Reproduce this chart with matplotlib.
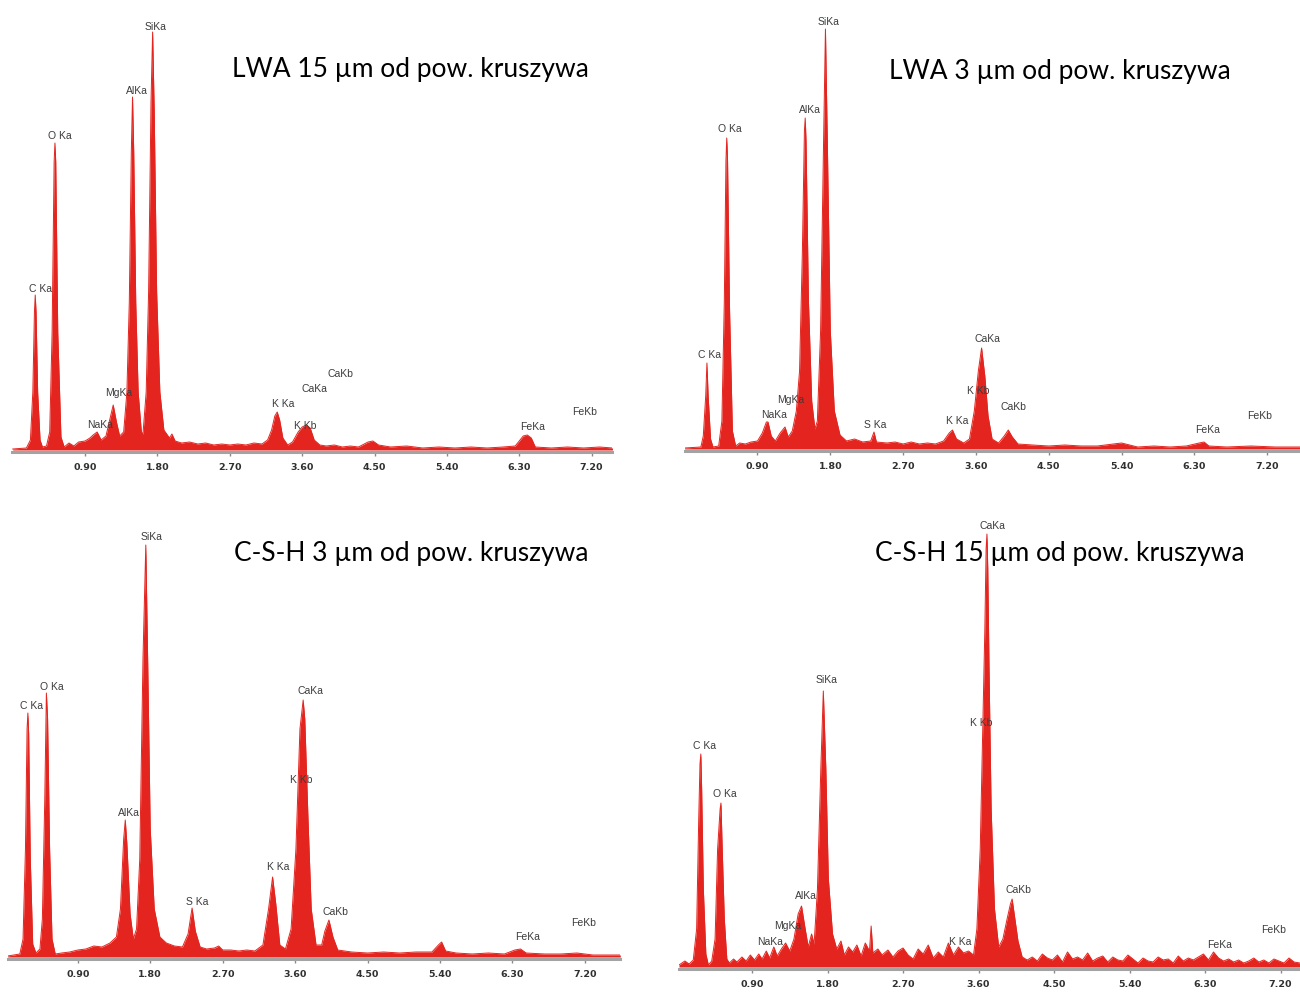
import matplotlib
matplotlib.use("Agg")
import matplotlib.pyplot as plt

# EDS spectra, energy in keV, counts (arbitrary units)
tl_energy = [0.00, 0.17, 0.22, 0.25, 0.27, 0.28, 0.29, 0.31, 0.34, 0.37, 0.42, 0.46, 0.49, 0.515, 0.525,
             0.535, 0.56, 0.60, 0.64, 0.70, 0.76, 0.82, 0.90, 0.96, 1.00, 1.05, 1.10, 1.16, 1.20, 1.25,
             1.29, 1.33, 1.38, 1.42, 1.45, 1.475, 1.49, 1.505, 1.53, 1.56, 1.60, 1.62, 1.66, 1.69, 1.72,
             1.74, 1.76, 1.79, 1.83, 1.88, 1.95, 1.98, 2.02, 2.10, 2.20, 2.30, 2.40, 2.50, 2.60, 2.70,
             2.80, 2.90, 3.00, 3.10, 3.17, 3.22, 3.26, 3.29, 3.32, 3.36, 3.42, 3.48, 3.55, 3.60, 3.65,
             3.70, 3.75, 3.82, 3.90, 4.00, 4.10, 4.20, 4.30, 4.42, 4.48, 4.55, 4.70, 4.90, 5.10, 5.30,
             5.50, 5.70, 5.90, 6.10, 6.25, 6.35, 6.40, 6.45, 6.50, 6.70, 6.90, 7.10, 7.30, 7.46]
tl_counts = [3, 4, 12, 60, 140, 157, 140, 60, 12, 5, 6, 20, 120, 290, 309,
             290, 120, 15, 5, 9, 6, 10, 11, 14, 17, 20, 12, 16, 30, 47,
             30, 16, 20, 60, 150, 300, 355, 300, 150, 60, 20, 18, 60, 160, 350,
             420, 340, 160, 60, 22, 14, 18, 11, 9, 10, 8, 9, 7, 8, 7,
             8, 7, 9, 8, 12, 22, 36, 40, 32, 14, 7, 10, 20, 25, 27,
             24, 12, 7, 6, 7, 5, 6, 5, 10, 11, 7, 5, 6, 4, 5,
             4, 5, 4, 5, 6, 16, 17, 14, 5, 4, 5, 4, 5, 4]

tr_energy = [0.00, 0.20, 0.23, 0.26, 0.275, 0.29, 0.32, 0.35, 0.42, 0.46, 0.49, 0.51, 0.52, 0.53, 0.555,
             0.59, 0.63, 0.68, 0.75, 0.82, 0.90, 0.96, 1.01, 1.03, 1.07, 1.12, 1.18, 1.24, 1.28, 1.33,
             1.38, 1.42, 1.455, 1.48, 1.49, 1.50, 1.53, 1.57, 1.61, 1.64, 1.68, 1.715, 1.74, 1.765, 1.80,
             1.85, 1.92, 2.00, 2.10, 2.20, 2.30, 2.34, 2.37, 2.50, 2.60, 2.70, 2.80, 2.90, 3.00, 3.10,
             3.20, 3.27, 3.31, 3.36, 3.45, 3.52, 3.58, 3.63, 3.67, 3.71, 3.75, 3.80, 3.88, 3.95, 4.00,
             4.05, 4.12, 4.30, 4.50, 4.70, 4.90, 5.10, 5.30, 5.40, 5.50, 5.60, 5.80, 6.00, 6.20, 6.36,
             6.42, 6.48, 6.70, 7.00, 7.30, 7.61]
tr_counts = [3, 4, 15, 55, 88, 55, 12, 4, 5, 30, 150, 290, 313, 290, 140,
             20, 5, 8, 7, 9, 10, 18, 29, 29, 15, 10, 18, 24, 14, 20,
             40, 80, 200, 320, 333, 310, 150, 50, 22, 30, 120, 300, 422, 300, 120,
             40, 16, 10, 12, 9, 10, 19, 9, 8, 9, 7, 9, 7, 8, 7,
             10, 18, 21, 12, 8, 12, 40, 80, 103, 75, 35, 12, 8, 15, 21,
             14, 7, 6, 5, 6, 5, 5, 7, 8, 6, 4, 5, 4, 5, 8,
             9, 5, 4, 5, 4, 4]

bl_energy = [0.03, 0.18, 0.22, 0.25, 0.27, 0.28, 0.29, 0.31, 0.34, 0.38, 0.43, 0.46, 0.49, 0.51, 0.525,
             0.55, 0.58, 0.62, 0.70, 0.80, 0.90, 1.00, 1.10, 1.20, 1.30, 1.38, 1.43, 1.47, 1.49, 1.51,
             1.55, 1.59, 1.63, 1.67, 1.71, 1.745, 1.77, 1.80, 1.85, 1.92, 2.00, 2.10, 2.20, 2.27, 2.32,
             2.36, 2.42, 2.50, 2.60, 2.65, 2.70, 2.80, 2.90, 3.00, 3.10, 3.20, 3.27, 3.32, 3.36, 3.41,
             3.48, 3.55, 3.61, 3.66, 3.70, 3.72, 3.76, 3.80, 3.86, 3.93, 3.97, 4.02, 4.07, 4.13, 4.30,
             4.50, 4.70, 4.90, 5.10, 5.30, 5.38, 5.42, 5.47, 5.60, 5.80, 6.00, 6.20, 6.33, 6.40, 6.47,
             6.70, 6.90, 7.10, 7.30, 7.50, 7.64]
bl_counts = [3, 5, 20, 110, 230, 246, 225, 100, 15, 6, 10, 40, 160, 266, 240,
             110, 20, 5, 6, 7, 9, 10, 13, 12, 16, 22, 50, 120, 139, 115,
             45, 20, 30, 100, 300, 414, 290, 130, 50, 22, 16, 13, 12, 25, 51,
             28, 12, 10, 11, 13, 9, 9, 8, 9, 8, 14, 50, 82, 55, 14,
             10, 30, 110, 230, 259, 240, 140, 50, 14, 14, 28, 39, 22, 9, 7,
             6, 7, 6, 7, 7, 14, 17, 8, 6, 5, 6, 5, 9, 10, 6,
             5, 5, 6, 4, 4, 4]

br_energy = [0.03, 0.10, 0.15, 0.20, 0.24, 0.265, 0.28, 0.29, 0.30, 0.32, 0.35, 0.38, 0.42, 0.46, 0.49,
             0.52, 0.53, 0.545, 0.57, 0.60, 0.63, 0.68, 0.72, 0.78, 0.83, 0.88, 0.93, 0.98, 1.02, 1.07,
             1.11, 1.16, 1.20, 1.25, 1.30, 1.35, 1.40, 1.45, 1.49, 1.53, 1.57, 1.61, 1.64, 1.68, 1.72,
             1.75, 1.78, 1.81, 1.86, 1.91, 1.96, 2.00, 2.05, 2.10, 2.15, 2.20, 2.25, 2.30, 2.32, 2.34,
             2.40, 2.45, 2.52, 2.58, 2.64, 2.70, 2.76, 2.82, 2.88, 2.94, 3.00, 3.06, 3.12, 3.18, 3.24,
             3.30, 3.36, 3.42, 3.48, 3.54, 3.58, 3.62, 3.65, 3.675, 3.69, 3.70, 3.71, 3.725, 3.75, 3.79,
             3.84, 3.89, 3.94, 3.98, 4.00, 4.03, 4.07, 4.12, 4.18, 4.24, 4.30, 4.36, 4.42, 4.48, 4.54,
             4.60, 4.66, 4.72, 4.78, 4.84, 4.90, 4.96, 5.02, 5.08, 5.14, 5.20, 5.26, 5.32, 5.38, 5.44,
             5.50, 5.56, 5.62, 5.68, 5.74, 5.80, 5.86, 5.92, 5.98, 6.04, 6.10, 6.16, 6.22, 6.28, 6.34,
             6.40, 6.46, 6.52, 6.58, 6.64, 6.70, 6.76, 6.82, 6.88, 6.94, 7.00, 7.06, 7.12, 7.18, 7.24,
             7.30, 7.36, 7.43]
br_counts = [4, 8, 5, 9, 40, 150, 205, 215, 180, 80, 15, 4, 8, 30, 120,
             160, 166, 120, 50, 10, 6, 10, 7, 12, 8, 14, 9, 15, 10, 18,
             11, 22, 13, 20, 26, 18, 30, 55, 63, 42, 22, 35, 25, 80, 200,
             278, 200, 90, 35, 20, 28, 14, 22, 17, 24, 13, 26, 18, 43, 16,
             20, 14, 19, 12, 18, 21, 14, 10, 20, 15, 24, 11, 17, 12, 26,
             14, 22, 16, 18, 14, 40, 120, 240, 340, 420, 435, 400, 300, 160, 60,
             22, 30, 50, 65, 70, 52, 28, 12, 9, 12, 8, 15, 11, 9, 14,
             7, 17, 10, 12, 9, 16, 8, 11, 13, 7, 12, 9, 8, 14, 10,
             6, 11, 8, 7, 12, 9, 10, 6, 13, 8, 11, 9, 12, 15, 9,
             17, 11, 8, 10, 7, 9, 6, 8, 11, 7, 9, 6, 10, 8, 6,
             11, 7, 6]

# peak labels: name, energy, counts at which the name sits
tl_names = ["SiKa", "AlKa", "O Ka", "C Ka", "MgKa", "NaKa", "K Ka", "K Kb", "CaKa", "CaKb", "FeKa", "FeKb"]
tl_name_e = [1.78, 1.55, 0.58, 0.34, 1.32, 1.09, 3.37, 3.64, 3.75, 4.07, 6.46, 7.11]
tl_name_c = [425, 361, 316, 163, 59, 27, 48, 26, 63, 78, 25, 40]

tr_names = ["SiKa", "AlKa", "O Ka", "C Ka", "MgKa", "NaKa", "S Ka", "K Ka", "K Kb", "CaKa", "CaKb", "FeKa", "FeKb"]
tr_name_e = [1.78, 1.55, 0.56, 0.31, 1.31, 1.10, 2.35, 3.37, 3.63, 3.74, 4.06, 6.46, 7.10]
tr_name_c = [429, 341, 322, 96, 51, 36, 26, 30, 60, 112, 44, 21, 35]

bl_names = ["SiKa", "O Ka", "C Ka", "AlKa", "S Ka", "K Ka", "K Kb", "CaKa", "CaKb", "FeKa", "FeKb"]
bl_name_e = [1.81, 0.58, 0.33, 1.54, 2.38, 3.39, 3.67, 3.79, 4.10, 6.49, 7.18]
bl_name_c = [422, 272, 253, 146, 57, 92, 179, 268, 47, 22, 36]

br_names = ["CaKa", "SiKa", "K Kb", "C Ka", "O Ka", "AlKa", "CaKb", "MgKa", "NaKa", "K Ka", "FeKa", "FeKb"]
br_name_e = [3.76, 1.79, 3.63, 0.33, 0.58, 1.54, 4.08, 1.32, 1.11, 3.38, 6.47, 7.11]
br_name_c = [443, 289, 246, 223, 175, 73, 79, 43, 27, 27, 24, 39]

titles = ["LWA 15 µm od pow. kruszywa", "LWA 3 µm od pow. kruszywa",
          "C-S-H 3 µm od pow. kruszywa", "C-S-H 15 µm od pow. kruszywa"]
tick_values = [0.90, 1.80, 2.70, 3.60, 4.50, 5.40, 6.30, 7.20]

RED = "#e4251f"

fig = plt.figure(figsize=(13, 10), dpi=100)


def draw_panel(rect, xlim, ylim, energy, counts, names, name_e, name_c):
    ax = fig.add_axes(rect)
    ax.fill_between(energy, 2, counts, color=RED, linewidth=0)
    ax.plot(energy, counts, color=RED, lw=0.7)
    ax.set_xlim(*xlim)
    ax.set_ylim(*ylim)
    for s in ["top", "left", "right"]:
        ax.spines[s].set_visible(False)
    ax.spines["bottom"].set_color("#a3a3a3")
    ax.spines["bottom"].set_linewidth(2.2)
    ax.set_yticks([])
    ax.set_xticks(tick_values)
    ax.set_xticklabels(["%.2f" % t for t in tick_values], fontsize=6.8,
                       fontweight="bold", color="#303030", family="DejaVu Sans")
    ax.tick_params(axis="x", length=3, width=1, color="#8a8a8a", pad=5)
    ax.patch.set_alpha(0)
    for n, e, c in zip(names, name_e, name_c):
        ax.text(e, c, n, ha="center", va="center", fontsize=7.5,
                family="Liberation Sans", color="#3c3c3c")
    return ax


draw_panel([12 / 1300, 0.548, 600 / 1300, 0.442], (-0.009, 7.454), (0, 442),
           tl_energy, tl_counts, tl_names, tl_name_e, tl_name_c)
draw_panel([685 / 1300, 0.549, 615 / 1300, 0.441], (0.004, 7.606), (0, 441),
           tr_energy, tr_counts, tr_names, tr_name_e, tr_name_c)
draw_panel([7.5 / 1300, 0.041, 612.5 / 1300, 0.444], (0.027, 7.636), (0, 444),
           bl_energy, bl_counts, bl_names, bl_name_e, bl_name_c)
draw_panel([679 / 1300, 0.031, 621 / 1300, 0.454], (0.03, 7.431), (0, 454),
           br_energy, br_counts, br_names, br_name_e, br_name_c)

title_pos = [(410 / 1300, 1 - 69 / 1000), (1059.5 / 1300, 1 - 72 / 1000),
             (411 / 1300, 1 - 553 / 1000), (1059.5 / 1300, 1 - 553 / 1000)]
for t, (x, y) in zip(titles, title_pos):
    fig.text(x, y, t, ha="center", va="center", fontsize=19, family="Lato", color="black")

fig.savefig("out.png", dpi=100)
